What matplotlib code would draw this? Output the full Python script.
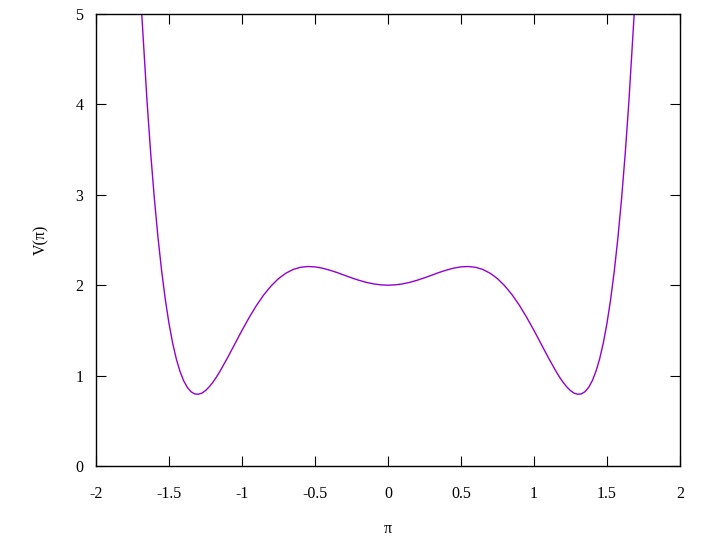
import numpy as np
import matplotlib
matplotlib.use("Agg")
import matplotlib.pyplot as plt

# values (right half; the curve is symmetric)
pi_right = [0.00, 0.05, 0.10, 0.15, 0.20, 0.25, 0.30, 0.35, 0.40, 0.45,
            0.50, 0.55, 0.60, 0.65, 0.70, 0.75, 0.80, 0.85, 0.90, 0.95,
            1.00, 1.05, 1.10, 1.15, 1.175, 1.20, 1.225, 1.25, 1.275, 1.30,
            1.325, 1.35, 1.375, 1.40, 1.425, 1.45, 1.475, 1.50, 1.525,
            1.55, 1.575, 1.60, 1.625, 1.65, 1.6865]
v_right = [2.000, 2.004, 2.015, 2.032, 2.055, 2.082, 2.111, 2.141, 2.167, 2.189,
           2.203, 2.207, 2.198, 2.174, 2.132, 2.073, 1.993, 1.895, 1.778, 1.645,
           1.500, 1.347, 1.194, 1.050, 0.984, 0.925, 0.875, 0.834, 0.806, 0.794,
           0.798, 0.823, 0.871, 0.945, 1.049, 1.186, 1.361, 1.578, 1.841,
           2.155, 2.525, 2.956, 3.455, 4.027, 5.000]

x_ticks = [-2, -1.5, -1, -0.5, 0, 0.5, 1, 1.5, 2]
x_tick_labels = ["-2", "-1.5", "-1", "-0.5", "0", "0.5", "1", "1.5", "2"]
y_ticks = [0, 1, 2, 3, 4, 5]

pi_vals = [-p for p in pi_right[:0:-1]] + pi_right
v_vals = v_right[:0:-1] + v_right

plt.rcParams['font.family'] = ['Liberation Serif', 'DejaVu Serif']

fig = plt.figure(figsize=(7.12, 5.41), dpi=100)
ax = fig.add_axes([0.1348, 0.1386, 0.8202, 0.8355])

ax.plot(pi_vals, v_vals, color="#9400d3", lw=1.0)

ax.set_xlim(-2, 2)
ax.set_ylim(0, 5)
ax.set_xticks(x_ticks)
ax.set_xticklabels(x_tick_labels)
ax.set_yticks(y_ticks)

ax.tick_params(direction="in", length=7.2, width=0.8, top=True, right=True,
               labelsize=11.5)
ax.tick_params(axis="x", pad=14.5)
ax.tick_params(axis="y", pad=9)
for s in ax.spines.values():
    s.set_linewidth(1.0)

ax.set_xlabel("\u03c0", fontsize=11.5, labelpad=13.5)
ax.set_ylabel("V(\u03c0)", fontsize=11.5, labelpad=19)

fig.savefig("out.png", dpi=100)
